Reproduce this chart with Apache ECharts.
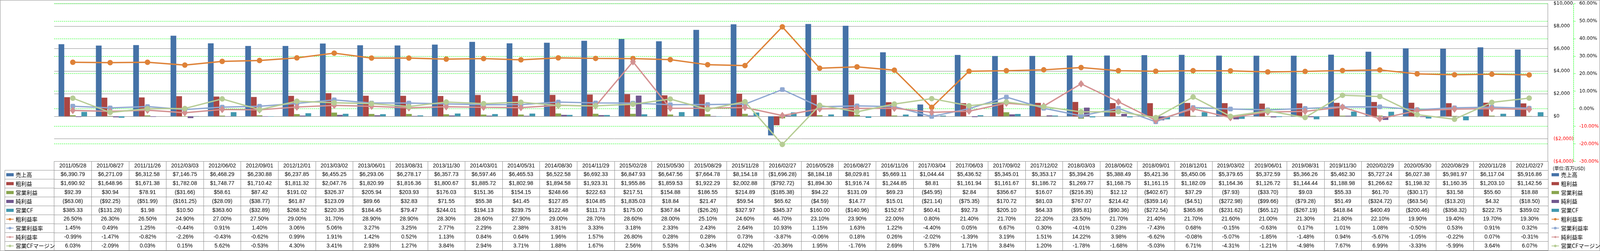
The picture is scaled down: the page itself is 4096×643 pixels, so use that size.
<!DOCTYPE html>
<html><head><meta charset="utf-8">
<script src="https://cdn.jsdelivr.net/npm/echarts@6/dist/echarts.min.js"></script>
<style>html,body{margin:0;padding:0;background:#fff;overflow:hidden}#c{width:4096px;height:643px}</style>
</head><body><div id="c"></div>
<script>
const categories = ['2011/05/28','2011/08/27','2011/11/26','2012/03/03','2012/06/02','2012/09/01','2012/12/01','2013/03/02','2013/06/01','2013/08/31','2013/11/30','2014/03/01','2014/05/31','2014/08/30','2014/11/29','2015/02/28','2015/05/30','2015/08/29','2015/11/28','2016/02/27','2016/05/28','2016/08/27','2016/11/26','2017/03/04','2017/06/03','2017/09/02','2017/12/02','2018/03/03','2018/06/02','2018/09/01','2018/12/01','2019/03/02','2019/06/01','2019/08/31','2019/11/30','2020/02/29','2020/05/30','2020/08/29','2020/11/28','2021/02/27'];
const sales = [6390.79,6271.09,6312.58,7146.75,6468.29,6230.88,6237.85,6455.25,6293.06,6278.17,6357.73,6597.46,6465.53,6522.58,6692.33,6847.93,6647.56,7664.78,8154.18,-1696.28,8184.18,8029.81,5669.11,1044.44,5436.52,5345.01,5353.17,5394.26,5388.49,5421.36,5450.06,5379.65,5372.59,5366.26,5462.30,5727.24,6027.38,5981.97,6117.04,5916.86];
const grossProfit = [1690.92,1648.96,1671.38,1782.08,1748.77,1710.42,1811.32,2047.76,1820.99,1816.36,1800.67,1885.72,1802.98,1894.58,1923.31,1955.86,1859.53,1922.29,2002.88,-792.72,1894.30,1916.74,1244.85,8.81,1161.94,1161.67,1186.72,1269.77,1168.75,1161.15,1182.09,1164.36,1126.72,1144.44,1188.98,1266.62,1198.32,1160.35,1203.10,1142.56];
const opProfit = [92.39,30.94,78.91,-31.66,58.61,87.42,191.02,326.37,205.94,203.93,176.03,151.36,154.15,248.66,222.63,217.51,154.88,186.55,214.89,-185.38,94.22,131.09,69.23,-45.95,2.84,356.67,16.07,-216.35,12.12,-402.67,37.29,-7.93,-33.70,9.03,55.33,61.70,-30.17,31.58,55.60,18.88];
const netProfit = [-63.08,-92.25,-51.99,-161.25,-28.09,-38.77,61.87,123.09,89.66,32.83,71.55,55.38,41.45,127.85,104.85,1835.03,18.84,21.47,59.54,65.62,-4.59,14.77,15.01,-21.14,-75.35,170.72,81.03,767.07,214.42,-359.14,-4.51,-272.98,-99.66,-79.28,51.49,-324.72,-63.54,-13.20,4.32,-18.50];
const opCF = [385.33,-131.28,1.98,10.50,363.60,-32.89,268.52,220.35,184.45,79.47,244.01,194.13,239.75,122.48,111.73,175.00,367.84,-26.26,327.97,345.37,160.00,-140.96,152.67,60.41,92.73,205.10,64.33,-95.81,-90.36,-272.54,365.86,-231.62,-65.12,-267.19,418.84,400.49,-200.46,-358.32,222.75,359.02];
const grossMargin = [26.50,26.30,26.50,24.90,27.00,27.50,29.00,31.70,28.90,28.90,28.30,28.60,27.90,29.00,28.70,28.60,28.00,25.10,24.60,46.70,23.10,23.90,22.00,0.80,21.40,21.70,22.20,23.50,21.70,21.40,21.70,21.60,21.00,21.30,21.80,22.10,19.90,19.40,19.70,19.30];
const opMargin = [1.45,0.49,1.25,-0.44,0.91,1.40,3.06,5.06,3.27,3.25,2.77,2.29,2.38,3.81,3.33,3.18,2.33,2.43,2.64,10.93,1.15,1.63,1.22,-4.40,0.05,6.67,0.30,-4.01,0.23,-7.43,0.68,-0.15,-0.63,0.17,1.01,1.08,-0.50,0.53,0.91,0.32];
const netMargin = [-0.99,-1.47,-0.82,-2.26,-0.43,-0.62,0.99,1.91,1.42,0.52,1.13,0.84,0.64,1.96,1.57,26.80,0.28,0.28,0.73,-3.87,-0.06,0.18,0.26,-2.02,-1.39,3.19,1.51,14.22,3.98,-6.62,-0.08,-5.07,-1.85,-1.48,0.94,-5.67,-1.05,-0.22,0.07,-0.31];
const cfMargin = [6.03,-2.09,0.03,0.15,5.62,-0.53,4.30,3.41,2.93,1.27,3.84,2.94,3.71,1.88,1.67,2.56,5.53,-0.34,4.02,-20.36,1.95,-1.76,2.69,5.78,1.71,3.84,1.20,-1.78,-1.68,-5.03,6.71,-4.31,-1.21,-4.98,7.67,6.99,-3.33,-5.99,3.64,6.07];

const seriesNames = ['売上高','粗利益','営業利益','純利益','営業CF','粗利益率','営業利益率','純利益率','営業CFマージン'];
const moneyAxis = {min: -4000, max: 10000, interval: 2000};
const pctAxis = {min: -30, max: 60, interval: 10};
const unitText = '(単位:百万USD)';

const barData = [sales, grossProfit, opProfit, netProfit, opCF];
const lineData = [grossMargin, opMargin, netMargin, cfMargin];
const barColors = ['#4572A7','#AA4643','#89A54E','#71588F','#4198AF'];
const lineColors = ['#DE8238','#8FA8D1','#D39191','#B6CC94'];
const lineSymbols = ['circle','roundRect','diamond','circle'];
const lineSymbolSizes = [14, 12, [15, 19], 14];

function thousands(n, dec) {
  const s = n.toFixed(dec);
  const parts = s.split('.');
  parts[0] = parts[0].replace(/\B(?=(\d{3})+(?!\d))/g, ',');
  return parts.join('.');
}
function fmtMoney(v, dec) {
  return v < 0 ? '($' + thousands(-v, dec) + ')' : '$' + thousands(v, dec);
}
function fmtPct(v) { return v.toFixed(2) + '%'; }

const tableRows = [
  ...barData.map(a => a.map(v => fmtMoney(v, 2))),
  ...lineData.map(a => a.map(fmtPct))
];

// Layout (scaled 0.6)
const S = 0.6;
const plotLeft = 231 * S, plotRight = 6606 * S, plotTop = 15 * S, plotBottom = 689 * S;
const rowH = 38 * S;
const tableBottom = plotBottom + rowH * 10;
const tableLeft = 20.5 * S;
const W = 4096, H = 643;
const tableFont = "'Liberation Sans', 'Noto Sans CJK JP', sans-serif";
const jpFont = "'Noto Sans CJK JP', 'Liberation Sans', sans-serif";
const axisFont = "'DejaVu Sans', sans-serif";
const gridGray = '#878787';

const series = [];
barData.forEach((d, i) => {
  series.push({
    name: seriesNames[i], type: 'bar', xAxisIndex: 0, yAxisIndex: 0,
    data: d, barGap: '0%', barCategoryGap: '23.6%',
    itemStyle: {color: barColors[i]}, z: 2
  });
});
lineData.forEach((d, i) => {
  series.push({
    name: seriesNames[5 + i], type: 'line', xAxisIndex: 0, yAxisIndex: 1,
    data: d, symbol: lineSymbols[i], symbolSize: lineSymbolSizes[i], showAllSymbol: true,
    lineStyle: {color: lineColors[i], width: 3.4},
    itemStyle: {color: lineColors[i]}, z: 3 + i
  });
});
series.push({
  type: 'custom', coordinateSystem: 'cartesian2d', xAxisIndex: 1, yAxisIndex: 2, silent: true, clip: false,
  data: categories.map((c, i) => [i, 0]),
  encode: {x: 0, y: 1},
  renderItem: function (params, api) {
    const i = api.value(0);
    const children = [];
    const p0 = api.coord([i, 0.5]);
    children.push({type: 'text', x: p0[0], y: p0[1],
      style: {text: categories[i], align: 'center', verticalAlign: 'middle', fontSize: 14, fontFamily: tableFont, fill: '#000'}});
    tableRows.forEach((row, k) => {
      const p = api.coord([i, k + 1.5]);
      children.push({type: 'text', x: p[0], y: p[1],
        style: {text: row[i], align: 'center', verticalAlign: 'middle', fontSize: 14, fontFamily: tableFont, fill: '#000'}});
    });
    return {type: 'group', children: children};
  }
});

const legendData = seriesNames.map((n, i) => i < 5 ? {name: n, icon: 'rect'} : {name: n});
const legendCommon = {
  orient: 'vertical', top: plotBottom + rowH + rowH / 2 - 7, itemGap: rowH - 14,
  itemWidth: 19, itemHeight: 8, padding: 0, selectedMode: false,
  textStyle: {fontSize: 14, lineHeight: 14, fontFamily: jpFont, color: '#000'},
  data: legendData
};

const graphics = [
  {type: 'rect', shape: {x: 0.5, y: 0.5, width: W - 1, height: H - 1}, style: {fill: 'none', stroke: '#8a8a8a', lineWidth: 1}, silent: true, z: 100},
  {type: 'line', shape: {x1: tableLeft, y1: plotBottom + rowH, x2: tableLeft, y2: tableBottom}, style: {stroke: '#8a8a8a', lineWidth: 1}, silent: true}
];
for (let k = 1; k <= 10; k++) {
  const y = plotBottom + rowH * k;
  graphics.push({type: 'line', shape: {x1: tableLeft, y1: y, x2: plotLeft, y2: y}, style: {stroke: '#8a8a8a', lineWidth: 1}, silent: true});
}
graphics.push({type: 'text', left: 6625 * S, top: 709 * S, style: {text: unitText, fontSize: 12, fontFamily: jpFont, fill: '#000'}, silent: true});

const option = {
  animation: false,
  backgroundColor: '#fff',
  grid: [
    {left: plotLeft, right: W - plotRight, top: plotTop, bottom: H - plotBottom, containLabel: false},
    {left: plotLeft, right: W - plotRight, top: plotBottom, height: tableBottom - plotBottom, containLabel: false}
  ],
  xAxis: [
    {type: 'category', gridIndex: 0, data: categories, boundaryGap: true,
      axisLine: {show: false}, axisTick: {show: false}, axisLabel: {show: false}, splitLine: {show: false}},
    {type: 'category', gridIndex: 1, data: categories, boundaryGap: true,
      axisLine: {show: false}, axisTick: {show: false}, axisLabel: {show: false},
      splitLine: {show: true, lineStyle: {color: '#8a8a8a', width: 1}}}
  ],
  yAxis: [
    {type: 'value', gridIndex: 0, position: 'right', min: moneyAxis.min, max: moneyAxis.max, interval: moneyAxis.interval,
      axisLine: {show: true, lineStyle: {color: gridGray, width: 1}}, axisTick: {show: false},
      axisLabel: {margin: 14.4, fontSize: 12, fontFamily: axisFont,
        formatter: v => fmtMoney(v, 0),
        color: v => (Number(v) < 0 ? '#FF0000' : '#000')},
      splitLine: {show: true, lineStyle: {color: gridGray, width: 1}}},
    {type: 'value', gridIndex: 0, position: 'right', offset: 66, min: pctAxis.min, max: pctAxis.max, interval: pctAxis.interval,
      axisLine: {show: true, lineStyle: {color: '#00FF00', width: 1, type: [3, 2]}},
      axisTick: {show: true, inside: false, length: 5, lineStyle: {color: '#00FF00', width: 1, type: [2, 1]}},
      axisLabel: {margin: 14.4, fontSize: 12, fontFamily: axisFont,
        formatter: v => fmtPct(v),
        color: v => (Number(v) < 0 ? '#FF0000' : '#000')},
      splitLine: {show: true, lineStyle: {color: '#00FF00', width: 1, type: [3, 2]}}},
    {type: 'value', gridIndex: 1, min: 0, max: 10, interval: 1, inverse: true,
      axisLine: {show: false}, axisTick: {show: false}, axisLabel: {show: false},
      splitLine: {show: true, lineStyle: {color: '#8a8a8a', width: 1}}}
  ],
  legend: [
    Object.assign({left: 15}, legendCommon),
    Object.assign({left: 3971}, legendCommon)
  ],
  graphic: graphics,
  series: series
};

const chart = echarts.init(document.getElementById('c'), null, {renderer: 'canvas'});
chart.setOption(option);
</script>
</body></html>
